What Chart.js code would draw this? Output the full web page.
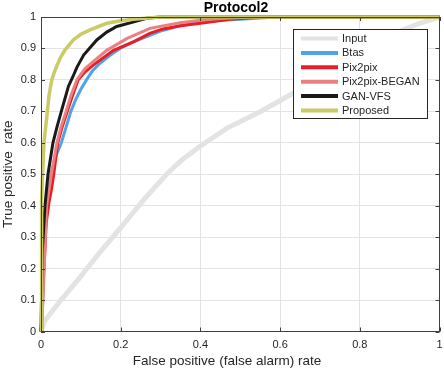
<!DOCTYPE html>
<html>
<head>
<meta charset="utf-8">
<script src="https://cdn.jsdelivr.net/npm/chart.js@4.4.1/dist/chart.umd.min.js"></script>
<style>
  html, body { margin: 0; padding: 0; background: #ffffff; }
  #wrap { width: 444px; height: 370px; }
</style>
</head>
<body>
<div id="wrap"><canvas id="roc" width="444" height="370"></canvas></div>
<script>
// ROC curves (x = false positive rate, y = true positive rate)
const inputX = [0, 0.005, 0.01, 0.05, 0.1, 0.115, 0.15, 0.2, 0.257, 0.315, 0.353, 0.4, 0.466, 0.55, 0.625, 0.7, 0.8, 0.9, 0.95, 1];
const inputY = [0, 0.02, 0.035, 0.1, 0.175, 0.2, 0.255, 0.33, 0.418, 0.5, 0.545, 0.59, 0.646, 0.699, 0.752, 0.805, 0.88, 0.955, 0.98, 1];

const btasX = [0, 0.003, 0.01, 0.016, 0.025, 0.035, 0.051, 0.063, 0.075, 0.088, 0.1, 0.114, 0.13, 0.148, 0.17, 0.198, 0.23, 0.273, 0.3, 0.349, 0.4, 0.45, 0.5, 0.59, 1];
const btasY = [0, 0.05, 0.3, 0.42, 0.5, 0.55, 0.6, 0.65, 0.7, 0.74, 0.77, 0.8, 0.83, 0.853, 0.875, 0.9, 0.92, 0.942, 0.955, 0.972, 0.983, 0.99, 0.993, 1, 1];

const pix2pixX = [0, 0.002, 0.009, 0.013, 0.02, 0.026, 0.032, 0.042, 0.053, 0.066, 0.079, 0.093, 0.11, 0.131, 0.182, 0.232, 0.273, 0.306, 0.35, 0.4, 0.474, 0.55, 1];
const pix2pixY = [0, 0.1, 0.24, 0.345, 0.41, 0.45, 0.5, 0.6, 0.65, 0.7, 0.75, 0.8, 0.825, 0.847, 0.894, 0.921, 0.948, 0.962, 0.972, 0.98, 0.993, 1, 1];

const beganX = [0, 0.005, 0.014, 0.026, 0.04, 0.05, 0.063, 0.075, 0.09, 0.11, 0.131, 0.165, 0.215, 0.273, 0.349, 0.4, 0.45, 0.53, 1];
const beganY = [0, 0.1, 0.4, 0.5, 0.6, 0.65, 0.7, 0.75, 0.8, 0.835, 0.858, 0.894, 0.931, 0.964, 0.982, 0.99, 0.995, 1, 1];

const ganvfsX = [0, 0.003, 0.01, 0.0175, 0.03, 0.04, 0.051, 0.06, 0.069, 0.08, 0.09, 0.107, 0.14, 0.165, 0.19, 0.24, 0.265, 0.3, 1];
const ganvfsY = [0, 0.25, 0.4, 0.5, 0.6, 0.65, 0.7, 0.74, 0.78, 0.81, 0.84, 0.879, 0.927, 0.952, 0.97, 0.987, 0.996, 1, 1];

const proposedX = [0, 0.001, 0.002, 0.004, 0.0075, 0.016, 0.02, 0.027, 0.035, 0.048, 0.06, 0.081, 0.1, 0.123, 0.165, 0.2, 0.232, 0.3, 1];
const proposedY = [0, 0.3, 0.42, 0.5, 0.6, 0.7, 0.75, 0.8, 0.83, 0.869, 0.895, 0.927, 0.945, 0.959, 0.98, 0.988, 0.993, 1, 1];

const xTicks = [0, 0.2, 0.4, 0.6, 0.8, 1];
const yTicks = [0, 0.1, 0.2, 0.3, 0.4, 0.5, 0.6, 0.7, 0.8, 0.9, 1];

const FONT = '"Liberation Sans", Arial, Helvetica, sans-serif';
const AXIS_COLOR = '#404040';

function pts(xs, ys) {
    return xs.map((x, i) => ({ x: x, y: ys[i] }));
}

function series(label, xs, ys, color, width, order) {
    return {
        label: label,
        data: pts(xs, ys),
        borderColor: color,
        backgroundColor: color,
        borderWidth: width,
        pointRadius: 0,
        tension: 0,
        fill: false,
        order: order,
        clip: 3
    };
}

// Legend drawn inside the axes, like Matlab's 'Location','best'
const insideLegend = {
    id: 'insideLegend',
    afterDraw(chart) {
        const ctx = chart.ctx;
        const box = { x: 293.5, y: 29.5, w: 134, h: 89 };
        ctx.save();
        ctx.fillStyle = '#ffffff';
        ctx.fillRect(box.x, box.y, box.w, box.h);
        ctx.strokeStyle = '#262626';
        ctx.lineWidth = 1;
        ctx.strokeRect(box.x, box.y, box.w, box.h);
        ctx.font = '11px ' + FONT;
        ctx.textBaseline = 'middle';
        ctx.fillStyle = '#262626';
        chart.data.datasets.forEach((ds, i) => {
            const yy = box.y + 9 + i * 14.4;
            ctx.strokeStyle = ds.borderColor;
            ctx.lineWidth = 4;
            ctx.beginPath();
            ctx.moveTo(301, yy);
            ctx.lineTo(338, yy);
            ctx.stroke();
            ctx.fillText(ds.label, 342, yy + 0.5);
        });
        ctx.restore();
    }
};

// Box around the axes, inward tick marks, title and x label
const axesFrame = {
    id: 'axesFrame',
    afterDatasetsDraw(chart) {
        const ctx = chart.ctx;
        const a = chart.chartArea;
        const xs = chart.scales.x;
        const ys = chart.scales.y;
        ctx.save();
        ctx.strokeStyle = AXIS_COLOR;
        ctx.lineWidth = 1;
        ctx.strokeRect(Math.round(a.left) + 0.5, Math.round(a.top) + 0.5,
            Math.round(a.right - a.left) - 1, Math.round(a.bottom - a.top) - 1);
        ctx.beginPath();
        xTicks.forEach(v => {
            const px = Math.round(xs.getPixelForValue(v)) + 0.5;
            ctx.moveTo(px, a.bottom);
            ctx.lineTo(px, a.bottom - 4);
            ctx.moveTo(px, a.top);
            ctx.lineTo(px, a.top + 4);
        });
        yTicks.forEach(v => {
            const py = Math.round(ys.getPixelForValue(v)) + 0.5;
            ctx.moveTo(a.left, py);
            ctx.lineTo(a.left + 4, py);
            ctx.moveTo(a.right, py);
            ctx.lineTo(a.right - 4, py);
        });
        ctx.stroke();
        ctx.textAlign = 'center';
        ctx.textBaseline = 'middle';
        ctx.fillStyle = '#000000';
        ctx.font = 'bold 14px ' + FONT;
        ctx.fillText('Protocol2', 236, 8);
        ctx.fillStyle = '#262626';
        ctx.font = '13.5px ' + FONT;
        ctx.fillText('False positive (false alarm) rate', 227, 361);
        ctx.restore();
    }
};

const ctx = document.getElementById('roc').getContext('2d');
new Chart(ctx, {
    type: 'line',
    data: {
        datasets: [
            series('Input', inputX, inputY, '#e3e3e3', 5, 6),
            series('Btas', btasX, btasY, '#4da4e6', 3, 5),
            series('Pix2pix', pix2pixX, pix2pixY, '#ec1c24', 3, 4),
            series('Pix2pix-BEGAN', beganX, beganY, '#ea8080', 3, 3),
            series('GAN-VFS', ganvfsX, ganvfsY, '#1a1a1a', 3, 2),
            series('Proposed', proposedX, proposedY, '#caca66', 3.5, 1)
        ]
    },
    options: {
        responsive: false,
        animation: false,
        events: [],
        layout: { padding: { left: 0, right: 4.5, top: 17, bottom: 0 } },
        plugins: {
            legend: { display: false },
            title: { display: false },
            tooltip: { enabled: false }
        },
        scales: {
            x: {
                type: 'linear',
                min: 0,
                max: 1,
                afterBuildTicks: (scale) => { scale.ticks = xTicks.map(v => ({ value: v })); },
                afterFit: (scale) => {
                    scale.height = 38.5;
                    scale.paddingLeft = 0;
                    scale.paddingRight = 0;
                },
                grid: { color: '#e3e3e3', drawTicks: false },
                border: { display: false },
                ticks: {
                    color: '#262626',
                    font: { family: FONT, size: 11 },
                    padding: 7,
                    maxRotation: 0,
                    callback: (v) => String(Math.round(v * 10) / 10)
                }
            },
            y: {
                type: 'linear',
                min: 0,
                max: 1,
                afterBuildTicks: (scale) => { scale.ticks = yTicks.map(v => ({ value: v })); },
                afterFit: (scale) => {
                    scale.width = 41;
                    scale.paddingTop = 0;
                    scale.paddingBottom = 0;
                },
                grid: { color: '#e3e3e3', drawTicks: false },
                border: { display: false },
                ticks: {
                    color: '#262626',
                    font: { family: FONT, size: 11 },
                    padding: 5,
                    callback: (v) => String(Math.round(v * 10) / 10)
                },
                title: {
                    display: true,
                    text: 'True positive  rate',
                    color: '#262626',
                    font: { family: FONT, size: 13.5 },
                    padding: { top: 0, bottom: 0 }
                }
            }
        }
    },
    plugins: [axesFrame, insideLegend]
});
</script>
</body>
</html>
